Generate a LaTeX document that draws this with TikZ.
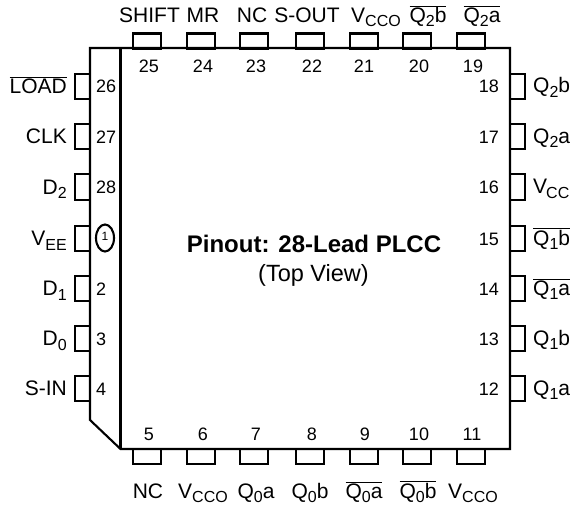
\documentclass[tikz,border=0pt]{standalone}
\usepackage{fontspec}
\usetikzlibrary{shapes.geometric}
\setmainfont{Liberation Sans}
\newcommand{\ovl}[1]{$\overline{\mbox{#1}}$}
\newcommand{\lowtxt}[1]{\raisebox{-4.5pt}{\fontsize{16}{16}\selectfont #1}}
\tikzset{
  pin line/.style={line width=2.1pt},
  hpin/.style={pin line, draw, minimum width=28pt, minimum height=15pt, inner sep=0pt},
  vpin/.style={pin line, draw, minimum width=15pt, minimum height=25.5pt, inner sep=0pt},
  pin label/.style={font=\fontsize{21}{22}\selectfont, inner sep=0pt},
  pin num/.style={font=\fontsize{18}{18}\selectfont, inner sep=0pt}
}
\begin{document}
\begin{tikzpicture}[x=1pt, y=-1pt]
  \useasboundingbox (0,0) rectangle (570,508);
  % package outline
  \coordinate (tl) at (90,48);
  \coordinate (tr) at (510,48);
  \coordinate (br) at (510,449);
  \coordinate (bi) at (120.5,449);
  \coordinate (cham) at (90,420);
  \coordinate (ti) at (120.5,48);
  \draw[pin line] (tl) -- (tr) -- (br) -- (bi) -- (cham) -- cycle;
  \draw[pin line] (ti) -- (bi);
  % top row
  \foreach \n/\px/\nx/\lx/\txt in {25/147/149/149.5/SHIFT, 24/201/203/203/MR, 23/254/256/252/NC,
      22/310/312/307/S-OUT, 21/364/364/376/{V\lowtxt{CCO}}, 20/417/419/428/{\ovl{Q\lowtxt{2}b}},
      19/471/473/482/{\ovl{Q\lowtxt{2}a}}} {
    \node[hpin] (p\n) at (\px,41) {};
    \node[pin num, anchor=base] (n\n) at (\nx,72.5) {\n};
    \node[pin label, anchor=base] (l\n) at (\lx,22.5) {\txt};
  }
  % bottom row
  \foreach \n/\px/\nx/\lx/\txt in {5/147/149/148/NC, 6/201/203/203/{V\lowtxt{CCO}}, 7/254/256/256/{Q\lowtxt{0}a},
      8/310/312/310/{Q\lowtxt{0}b}, 9/364/365/364/{\ovl{Q\lowtxt{0}a}}, 10/417/419/418/{\ovl{Q\lowtxt{0}b}},
      11/471/472/473/{V\lowtxt{CCO}}} {
    \node[hpin] (p\n) at (\px,456.5) {};
    \node[pin num, anchor=base] (n\n) at (\nx,440) {\n};
    \node[pin label, anchor=base] (l\n) at (\lx,498) {\txt};
  }
  % left column
  \foreach \n/\py/\txt in {26/86.5/{\ovl{LOAD}}, 27/136.5/CLK, 28/187/{D\lowtxt{2}},
      1/238.5/{V\lowtxt{EE}}, 2/288.5/{D\lowtxt{1}}, 3/338.5/{D\lowtxt{0}}, 4/388.5/S-IN} {
    \node[vpin] (p\n) at (82.5,\py) {};
    \node[pin label, anchor=base east] (l\n) at (67,\py+7) {\txt};
  }
  \foreach \n/\py in {26/86.5, 27/136.5, 28/187, 2/288.5, 3/338.5, 4/388.5} {
    \node[pin num, anchor=base west] (n\n) at (96,\py+6.5) {\n};
  }
  \node[draw, pin line, ellipse, minimum width=18pt, minimum height=27pt, inner sep=0pt,
    font=\fontsize{12}{12}\selectfont] (n1) at (105,238) {\raisebox{3pt}{1}};
  % right column
  \foreach \n/\py/\txt in {18/86.5/{Q\lowtxt{2}b}, 17/136.5/{Q\lowtxt{2}a}, 16/187/{V\hspace{-1pt}\lowtxt{CC}},
      15/238.5/{\ovl{Q\lowtxt{1}b}}, 14/288.5/{\ovl{Q\lowtxt{1}a}}, 13/338.5/{Q\lowtxt{1}b},
      12/388.5/{Q\lowtxt{1}a}} {
    \node[vpin] (p\n) at (517.5,\py) {};
    \node[pin num, anchor=base east] (n\n) at (499,\py+6.5) {\n};
    \node[pin label, anchor=base west] (l\n) at (533,\py+6.5) {\txt};
  }
  % title
  \node[anchor=base, inner sep=0pt, font=\fontsize{24}{24}\selectfont\bfseries] (title) at (314,252) {Pinout: 28-Lead PLCC};
  \node[anchor=base, inner sep=0pt, font=\fontsize{23.5}{24}\selectfont] (view) at (313.5,281) {(Top View)};
\end{tikzpicture}
\end{document}
